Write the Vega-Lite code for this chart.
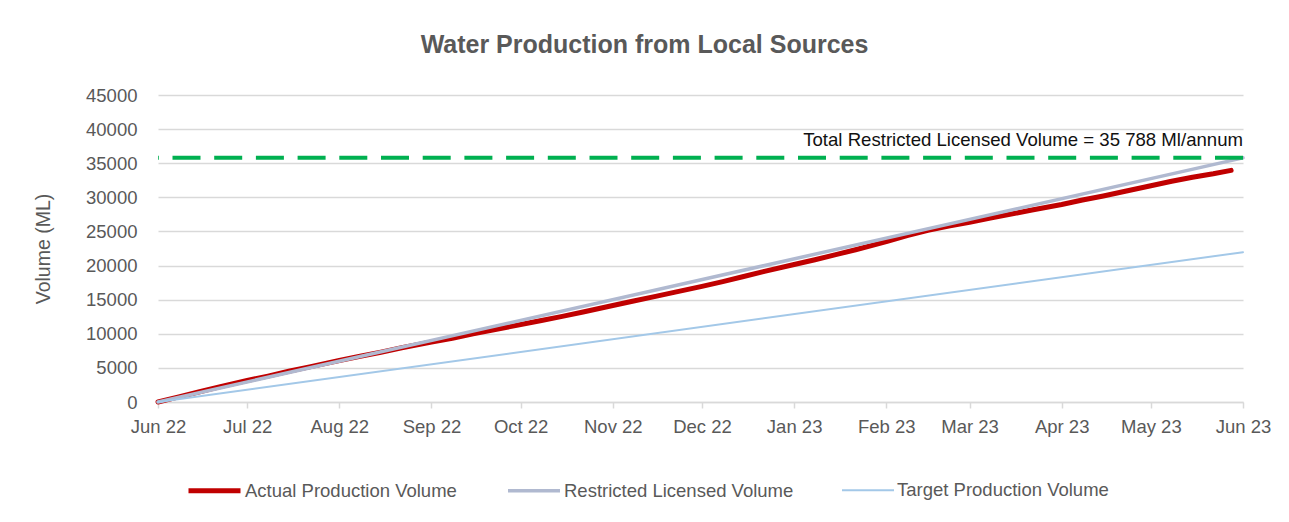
{
  "$schema": "https://vega.github.io/schema/vega-lite/v6.json",
  "autosize": {"type": "none"},
  "width": 1085,
  "height": 307,
  "padding": {"left": 158, "top": 95, "right": 46, "bottom": 120},
  "background": "white",
  "title": {
    "text": "Water Production from Local Sources",
    "anchor": "middle",
    "frame": "group",
    "dx": -56,
    "offset": 28,
    "fontSize": 25,
    "fontWeight": "bold",
    "color": "#595959"
  },
  "datasets": {
    "lines": [
      {"date": "2022-06-01T00:00", "series": "Actual Production Volume", "value": 0},
      {"date": "2022-06-08T00:00", "series": "Actual Production Volume", "value": 750},
      {"date": "2022-06-15T00:00", "series": "Actual Production Volume", "value": 1500},
      {"date": "2022-06-22T00:00", "series": "Actual Production Volume", "value": 2250},
      {"date": "2022-07-01T00:00", "series": "Actual Production Volume", "value": 3150},
      {"date": "2022-07-08T00:00", "series": "Actual Production Volume", "value": 3800},
      {"date": "2022-07-15T00:00", "series": "Actual Production Volume", "value": 4500},
      {"date": "2022-07-22T00:00", "series": "Actual Production Volume", "value": 5150},
      {"date": "2022-08-01T00:00", "series": "Actual Production Volume", "value": 6080},
      {"date": "2022-08-08T00:00", "series": "Actual Production Volume", "value": 6700},
      {"date": "2022-08-15T00:00", "series": "Actual Production Volume", "value": 7300},
      {"date": "2022-08-22T00:00", "series": "Actual Production Volume", "value": 7950},
      {"date": "2022-09-01T00:00", "series": "Actual Production Volume", "value": 8800},
      {"date": "2022-09-08T00:00", "series": "Actual Production Volume", "value": 9350},
      {"date": "2022-09-15T00:00", "series": "Actual Production Volume", "value": 10000},
      {"date": "2022-09-22T00:00", "series": "Actual Production Volume", "value": 10600},
      {"date": "2022-10-01T00:00", "series": "Actual Production Volume", "value": 11350},
      {"date": "2022-10-08T00:00", "series": "Actual Production Volume", "value": 11950},
      {"date": "2022-10-15T00:00", "series": "Actual Production Volume", "value": 12550},
      {"date": "2022-10-22T00:00", "series": "Actual Production Volume", "value": 13200},
      {"date": "2022-11-01T00:00", "series": "Actual Production Volume", "value": 14150},
      {"date": "2022-11-08T00:00", "series": "Actual Production Volume", "value": 14800},
      {"date": "2022-11-15T00:00", "series": "Actual Production Volume", "value": 15450},
      {"date": "2022-11-22T00:00", "series": "Actual Production Volume", "value": 16100},
      {"date": "2022-12-01T00:00", "series": "Actual Production Volume", "value": 16950},
      {"date": "2022-12-08T00:00", "series": "Actual Production Volume", "value": 17650},
      {"date": "2022-12-15T00:00", "series": "Actual Production Volume", "value": 18400},
      {"date": "2022-12-22T00:00", "series": "Actual Production Volume", "value": 19150},
      {"date": "2023-01-01T00:00", "series": "Actual Production Volume", "value": 20150},
      {"date": "2023-01-08T00:00", "series": "Actual Production Volume", "value": 20850},
      {"date": "2023-01-15T00:00", "series": "Actual Production Volume", "value": 21600},
      {"date": "2023-01-22T00:00", "series": "Actual Production Volume", "value": 22350},
      {"date": "2023-02-01T00:00", "series": "Actual Production Volume", "value": 23500},
      {"date": "2023-02-08T00:00", "series": "Actual Production Volume", "value": 24400},
      {"date": "2023-02-15T00:00", "series": "Actual Production Volume", "value": 25150},
      {"date": "2023-02-22T00:00", "series": "Actual Production Volume", "value": 25800},
      {"date": "2023-03-01T00:00", "series": "Actual Production Volume", "value": 26350},
      {"date": "2023-03-08T00:00", "series": "Actual Production Volume", "value": 26950},
      {"date": "2023-03-15T00:00", "series": "Actual Production Volume", "value": 27550},
      {"date": "2023-03-22T00:00", "series": "Actual Production Volume", "value": 28150},
      {"date": "2023-04-01T00:00", "series": "Actual Production Volume", "value": 28950},
      {"date": "2023-04-08T00:00", "series": "Actual Production Volume", "value": 29600},
      {"date": "2023-04-15T00:00", "series": "Actual Production Volume", "value": 30200},
      {"date": "2023-04-22T00:00", "series": "Actual Production Volume", "value": 30850},
      {"date": "2023-05-01T00:00", "series": "Actual Production Volume", "value": 31700},
      {"date": "2023-05-08T00:00", "series": "Actual Production Volume", "value": 32350},
      {"date": "2023-05-15T00:00", "series": "Actual Production Volume", "value": 32950},
      {"date": "2023-05-22T00:00", "series": "Actual Production Volume", "value": 33450},
      {"date": "2023-05-28T00:00", "series": "Actual Production Volume", "value": 33950},
      {"date": "2022-06-01T00:00", "series": "Restricted Licensed Volume", "value": 0},
      {"date": "2023-06-01T00:00", "series": "Restricted Licensed Volume", "value": 35788},
      {"date": "2022-06-01T00:00", "series": "Target Production Volume", "value": 0},
      {"date": "2023-06-01T00:00", "series": "Target Production Volume", "value": 21960}
    ],
    "limit": [
      {"date": "2023-06-01T00:00", "value": 35788, "label": "Total Restricted Licensed Volume = 35 788 Ml/annum"}
    ]
  },
  "layer": [
    {
      "data": {"name": "lines"},
      "mark": {"type": "line", "interpolate": "linear", "strokeCap": "round", "strokeJoin": "round"},
      "encoding": {
        "x": {
          "field": "date",
          "type": "temporal",
          "scale": {"domain": ["2022-06-01T00:00", "2023-06-01T00:00"], "nice": false},
          "axis": {
            "title": null,
            "format": "%b %y",
            "tickCount": {"interval": "month", "step": 1},
            "grid": false,
            "domainColor": "#d9d9d9",
            "domainWidth": 1.5,
            "tickColor": "#d9d9d9",
            "tickWidth": 1.5,
            "tickSize": 6,
            "labelPadding": 9,
            "labelFontSize": 18.5,
            "labelColor": "#595959",
            "labelFlush": false,
            "labelOverlap": false
          }
        },
        "y": {
          "field": "value",
          "type": "quantitative",
          "scale": {"domain": [0, 45000], "nice": false},
          "axis": {
            "title": "Volume (ML)",
            "tickCount": 9,
            "format": "d",
            "domain": false,
            "ticks": false,
            "grid": true,
            "gridColor": "#d9d9d9",
            "gridWidth": 1.5,
            "labelPadding": 21,
            "labelFontSize": 18.5,
            "labelColor": "#595959",
            "labelOverlap": false,
            "titleFontSize": 19.5,
            "titleFontWeight": "normal",
            "titleColor": "#595959",
            "titlePadding": 32
          }
        },
        "color": {
          "field": "series",
          "type": "nominal",
          "scale": {
            "domain": ["Actual Production Volume", "Restricted Licensed Volume", "Target Production Volume"],
            "range": ["#C00000", "#B0B9D0", "#A3C8E8"]
          },
          "legend": {
            "title": null,
            "orient": "none",
            "direction": "horizontal",
            "legendX": 28,
            "legendY": 367,
            "symbolType": "stroke",
            "symbolSize": 2704,
            "labelFontSize": 18.5,
            "labelColor": "#595959",
            "labelOffset": 2,
            "columnPadding": 44,
            "labelLimit": 400
          }
        },
        "strokeWidth": {
          "field": "series",
          "type": "nominal",
          "scale": {
            "domain": ["Actual Production Volume", "Restricted Licensed Volume", "Target Production Volume"],
            "range": [5, 2, 2]
          },
          "legend": {
            "title": null,
            "orient": "none",
            "direction": "horizontal",
            "legendX": 28,
            "legendY": 367,
            "symbolType": "stroke",
            "symbolSize": 2704,
            "labelFontSize": 18.5,
            "labelColor": "#595959",
            "labelOffset": 2,
            "columnPadding": 44,
            "labelLimit": 400
          }
        }
      }
    },
    {
      "data": {"name": "limit"},
      "mark": {"type": "rule", "color": "#00B050", "strokeWidth": 4, "strokeDash": [28, 13.7]},
      "encoding": {
        "y": {"field": "value", "type": "quantitative"}
      }
    },
    {
      "data": {"name": "limit"},
      "mark": {"type": "text", "align": "right", "baseline": "alphabetic", "dy": -12, "fontSize": 18.6, "color": "#111111"},
      "encoding": {
        "x": {"field": "date", "type": "temporal"},
        "y": {"field": "value", "type": "quantitative"},
        "text": {"field": "label"}
      }
    }
  ],
  "config": {
    "font": "Liberation Sans, Arial, sans-serif",
    "view": {"stroke": null}
  }
}
